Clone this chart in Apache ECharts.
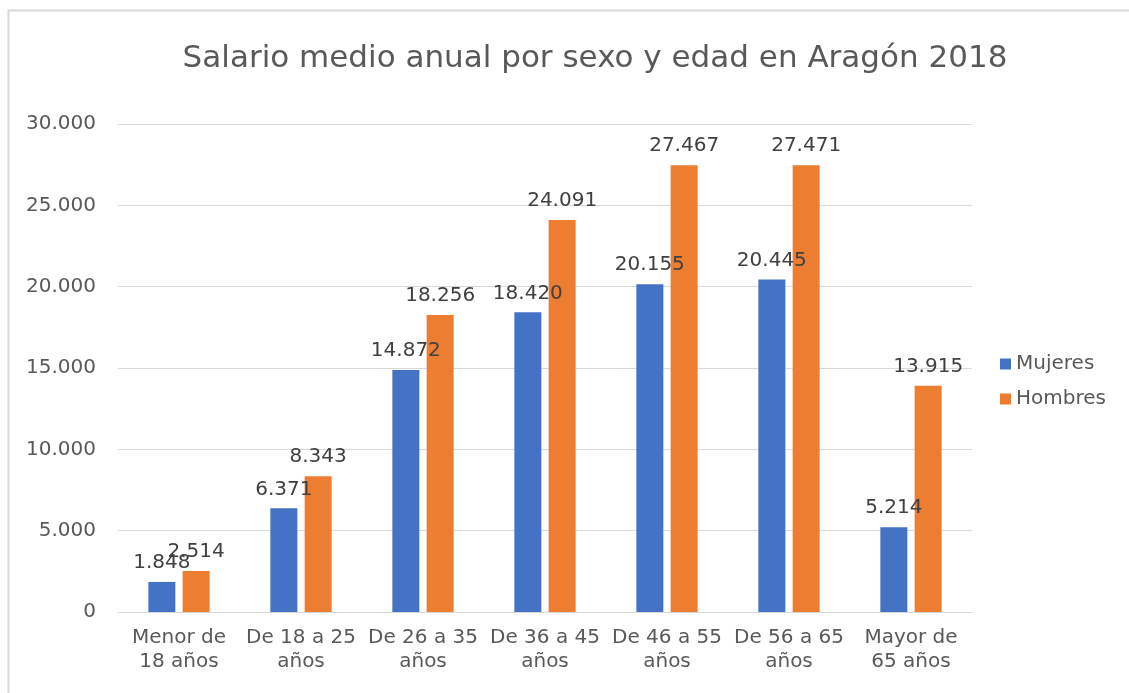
<!DOCTYPE html>
<html lang="es">
<head>
<meta charset="UTF-8">
<script src="https://cdn.jsdelivr.net/npm/echarts@6/dist/echarts.min.js"></script>
<style>
  html, body { margin: 0; padding: 0; background: #fff; }
  #chart { width: 1129px; height: 693px; }
</style>
</head>
<body>
<div id="chart"></div>
<script>
// datos
var categorias = ['Menor de\n18 años', 'De 18 a 25\naños', 'De 26 a 35\naños', 'De 36 a 45\naños', 'De 46 a 55\naños', 'De 56 a 65\naños', 'Mayor de\n65 años'];
var mujeres = [1848, 6371, 14872, 18420, 20155, 20445, 5214];
var hombres = [2514, 8343, 18256, 24091, 27467, 27471, 13915];

var FONT = '"DejaVu Sans", "Noto Sans", sans-serif';

function miles(v) {
  return String(v).replace(/\B(?=(\d{3})+(?!\d))/g, '.');
}

var chart = echarts.init(document.getElementById('chart'));
var etiqueta = {
  show: true,
  position: 'top',
  distance: 9,
  color: '#404040',
  fontFamily: FONT,
  fontSize: 20,
  formatter: function (p) { return miles(p.value); }
};

chart.setOption({
  animation: false,
  textStyle: { fontFamily: FONT },
  graphic: [{
    type: 'rect',
    shape: { x: 8.5, y: 10.5, width: 1140, height: 700 },
    style: { fill: 'none', stroke: '#d9d9d9', lineWidth: 2 },
    silent: true
  }],
  title: {
    text: 'Salario medio anual por sexo y edad en Aragón 2018',
    left: 590,
    top: 38,
    textAlign: 'center',
    textStyle: { color: '#595959', fontSize: 31, fontWeight: 'normal', fontFamily: FONT }
  },
  legend: {
    orient: 'vertical',
    left: 995,
    top: 349,
    itemWidth: 11,
    itemHeight: 11,
    itemGap: 15,
    icon: 'rect',
    textStyle: { color: '#595959', fontSize: 20, fontFamily: FONT },
    data: ['Mujeres', 'Hombres']
  },
  grid: { left: 118, right: 157, top: 124, bottom: 81 },
  xAxis: {
    type: 'category',
    data: categorias,
    axisTick: { show: false },
    axisLine: { lineStyle: { color: '#d9d9d9', width: 1 } },
    axisLabel: { color: '#595959', fontSize: 20, lineHeight: 24, margin: 14, interval: 0, fontFamily: FONT }
  },
  yAxis: {
    type: 'value',
    min: 0,
    max: 30000,
    interval: 5000,
    axisLine: { show: false },
    axisTick: { show: false },
    splitLine: { lineStyle: { color: '#d9d9d9', width: 1 } },
    axisLabel: { color: '#595959', fontSize: 20, margin: 22, fontFamily: FONT, formatter: function (v) { return miles(v); } }
  },
  series: [{
    name: 'Mujeres',
    type: 'bar',
    data: mujeres,
    barWidth: 27,
    barGap: '27%',
    itemStyle: { color: '#4472c4' },
    label: etiqueta
  }, {
    name: 'Hombres',
    type: 'bar',
    data: hombres,
    barWidth: 27,
    barGap: '27%',
    itemStyle: { color: '#ed7d31' },
    label: etiqueta
  }]
});
</script>
</body>
</html>
